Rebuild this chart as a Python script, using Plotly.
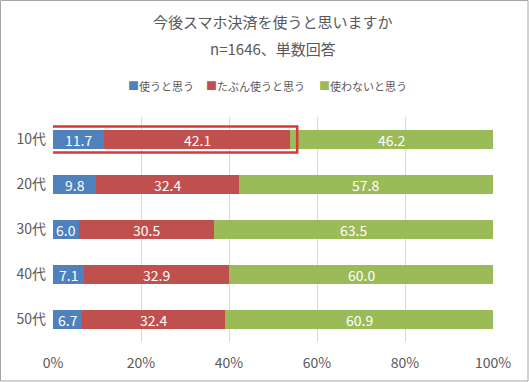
import plotly.graph_objects as go

categories = ["10代", "20代", "30代", "40代", "50代"]
use = [11.7, 9.8, 6.0, 7.1, 6.7]
maybe = [42.1, 32.4, 30.5, 32.9, 32.4]
not_use = [46.2, 57.8, 63.5, 60.0, 60.9]
series_names = ["使うと思う", "たぶん使うと思う", "使わないと思う"]
colors = ["#4F81BD", "#C0504D", "#9BBB59"]
tick_vals = [0, 20, 40, 60, 80, 100]
tick_text = ["0%", "20%", "40%", "60%", "80%", "100%"]

FONT = "Noto Sans CJK JP"
GRAY = "#595959"
fig = go.Figure()
series = [use, maybe, not_use]
for name, vals, c in zip(series_names, series, colors):
    fig.add_trace(go.Bar(
        y=categories, x=vals, name=name, orientation="h",
        marker=dict(color=c, line=dict(width=0)),
        hoverinfo="skip", showlegend=False,
    ))

# data labels, centred in each segment
annotations = []
for i, cat in enumerate(categories):
    start = 0.0
    for vals in series:
        v = vals[i]
        annotations.append(dict(x=start + v / 2, y=cat, xref="x", yref="y",
                                text=f"{v:.1f}", showarrow=False,
                                font=dict(color="white", size=14, family=FONT)))
        start += v

# titles (paper coords: plot area top y=117px, bottom y=342px)
H = 225.0
def py(p):
    return (342 - p) / H
def px(p):
    return (p - 53) / 440.0
annotations.append(dict(text="今後スマホ決済を使うと思いますか", x=0.5, y=py(22), xref="paper", yref="paper",
                        yanchor="middle", showarrow=False, font=dict(size=15, color=GRAY, family=FONT)))
annotations.append(dict(text="n=1646、単数回答", x=0.5, y=py(48), xref="paper", yref="paper",
                        yanchor="middle", showarrow=False, font=dict(size=15, color=GRAY, family=FONT)))

# custom legend: square marker + label
leg_sq = [126, 204, 317]
for name, c, lx in zip(series_names, colors, leg_sq):
    annotations.append(dict(text="■", x=px(lx), y=py(85), xref="paper", yref="paper",
                            xanchor="left", yanchor="middle", showarrow=False,
                            font=dict(size=11, color=c, family=FONT)))
    annotations.append(dict(text=name, x=px(lx + 11), y=py(86), xref="paper", yref="paper",
                            xanchor="left", yanchor="middle", showarrow=False,
                            font=dict(size=11, color=GRAY, family=FONT)))

shapes = [
    dict(type="rect", xref="x", yref="y", x0=-0.4, x1=55.5, y0=-0.29, y1=0.29,
         line=dict(color="#D9383A", width=2.5), fillcolor="rgba(0,0,0,0)"),
    dict(type="rect", xref="paper", yref="paper",
         x0=-52.5 / 440, x1=1 + 35 / 440, y0=py(381), y1=py(0.5),
         line=dict(color="#A6A6A6", width=1)),
]

fig.update_layout(
    width=529, height=382,
    barmode="stack", bargap=0.58,
    paper_bgcolor="white", plot_bgcolor="white",
    margin=dict(l=53, r=36, t=117, b=40, autoexpand=False),
    font=dict(family=FONT, color=GRAY, size=14),
    showlegend=False,
    annotations=annotations,
    shapes=shapes,
    xaxis=dict(range=[0, 100], tickvals=tick_vals, ticktext=tick_text,
               showgrid=True, gridcolor="#D9D9D9", gridwidth=1, zeroline=False,
               tickfont=dict(size=14, color=GRAY), fixedrange=True, ticklen=0,
               ticklabelstandoff=11, automargin=False),
    yaxis=dict(autorange="reversed", showgrid=False, tickfont=dict(size=14, color=GRAY),
               ticklabelstandoff=6, fixedrange=True, automargin=False),
)

fig.write_html("out.html", config={"displayModeBar": False},
               post_script="document.body.style.margin='0';")
